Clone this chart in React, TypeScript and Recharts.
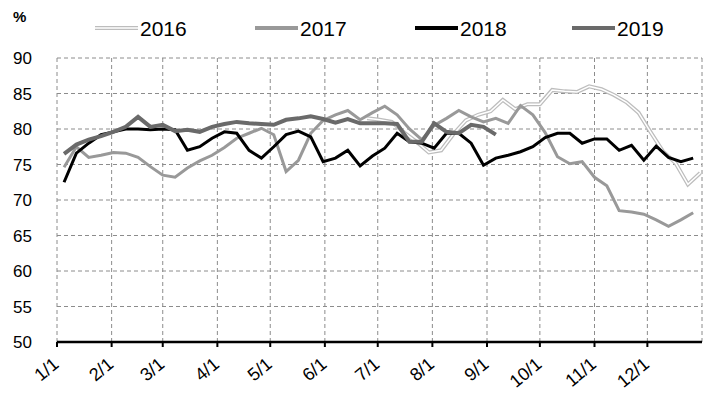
import { LineChart, Line, XAxis, YAxis, CartesianGrid } from "recharts";

// weekly readings, day-of-year positions
const WEEK_DAYS = Array.from({ length: 52 }, (_, i) => 4 + 7 * i);
const DAYS_2016 = Array.from({ length: 28 }, (_, i) => 176 + 7 * i);

const MONTH_TICKS = [0, 31, 60, 91, 121, 152, 182, 213, 244, 274, 305, 335];
const MONTH_LABELS = ["1/1", "2/1", "3/1", "4/1", "5/1", "6/1", "7/1", "8/1", "9/1", "10/1", "11/1", "12/1"];
const Y_TICKS = [50, 55, 60, 65, 70, 75, 80, 85, 90];

const S2016 = [
  81.5, 81.3, 81.0, 79.5, 78.2, 76.7, 77.0, 79.3, 81.2, 82.0, 82.5, 84.1, 82.8, 83.5,
  83.5, 85.5, 85.3, 85.2, 86.0, 85.6, 84.8, 83.8, 82.3, 79.5, 76.8, 75.2, 72.2, 73.8,
];
const S2017 = [
  74.6, 77.5, 76.0, 76.3, 76.7, 76.6, 76.0, 74.7, 73.5, 73.2, 74.5, 75.5, 76.3, 77.4,
  78.7, 79.4, 80.1, 79.2, 74.0, 75.6, 79.4, 81.2, 82.0, 82.6, 81.3, 82.3, 83.2, 82.0,
  80.0, 78.5, 80.5, 81.5, 82.6, 81.7, 81.0, 81.5, 80.8, 83.3, 82.0, 79.5, 76.1, 75.1,
  75.4, 73.2, 72.0, 68.5, 68.3, 68.0, 67.2, 66.3, 67.2, 68.2,
];
const S2018 = [
  72.5, 76.6, 78.0, 79.2, 79.6, 80.0, 80.0, 79.9, 80.0, 79.9, 77.0, 77.5, 78.7, 79.6,
  79.4, 77.0, 75.9, 77.5, 79.2, 79.7, 78.9, 75.4, 75.9, 77.0, 74.8, 76.2, 77.3, 79.4,
  78.2, 78.0, 77.3, 79.4, 79.4, 78.0, 74.9, 75.9, 76.3, 76.8, 77.5, 78.8, 79.4, 79.4,
  78.0, 78.6, 78.6, 77.0, 77.7, 75.6, 77.6, 76.0, 75.4, 75.9,
];
const S2019 = [
  76.5, 77.8, 78.5, 79.0, 79.6, 80.3, 81.7, 80.3, 80.6, 79.7, 79.9, 79.6, 80.3, 80.7,
  81.0, 80.8, 80.7, 80.6, 81.3, 81.5, 81.8, 81.4, 80.9, 81.4, 80.8, 80.8, 80.8, 80.7,
  78.2, 78.2, 80.8, 79.6, 79.4, 80.6, 80.3, 79.2,
];

const mainData = WEEK_DAYS.map((day, i) => ({
  day,
  y2017: S2017[i],
  y2018: S2018[i],
  y2019: i < S2019.length ? S2019[i] : null,
}));
const data2016 = DAYS_2016.map((day, i) => ({ day, y2016: S2016[i] }));

const FONT = "'Liberation Sans', Arial, sans-serif";

const MonthTick = (props: any) => {
  const { x, y, payload } = props;
  const label = MONTH_LABELS[MONTH_TICKS.indexOf(payload.value)];
  const tx = x + 3;
  const ty = y + 17;
  return (
    <text
      x={tx}
      y={ty}
      transform={`rotate(-40, ${tx}, ${ty})`}
      textAnchor="end"
      fontSize={18}
      fontFamily={FONT}
      fill="#000"
    >
      {label}
    </text>
  );
};

const legendItems = [
  { name: "2016", x: 95, outer: "#bdbdbd", inner: "#fff" },
  { name: "2017", x: 255, outer: "#999999", inner: null },
  { name: "2018", x: 415, outer: "#000000", inner: null },
  { name: "2019", x: 572, outer: "#6a6a6a", inner: null },
];

const LegendOverlay = () => (
  <svg width={709} height={50} style={{ position: "absolute", left: 0, top: 0 }}>
    {legendItems.map((it) => (
      <g key={it.name}>
        <line x1={it.x} x2={it.x + 43} y1={28} y2={28} stroke={it.outer} strokeWidth={4} />
        {it.inner && <line x1={it.x} x2={it.x + 43} y1={28} y2={28} stroke={it.inner} strokeWidth={1.5} />}
        <text x={it.x + 45} y={36} fontSize={21} fontFamily={FONT} fill="#000">
          {it.name}
        </text>
      </g>
    ))}
  </svg>
);

const App = () => {
  return (
    <div style={{ position: "absolute", left: 0, top: 0, width: 709, height: 393, background: "#fff" }}>
      <LineChart width={709} height={393} margin={{ top: 58, right: 7, bottom: 0, left: 0 }}>
        <CartesianGrid stroke="#8c8c8c" strokeDasharray="4 3" />
        <XAxis
          dataKey="day"
          type="number"
          domain={[0, 366]}
          ticks={MONTH_TICKS}
          allowDataOverflow
          axisLine={{ stroke: "#000", strokeWidth: 2.5 }}
          tickLine={{ stroke: "#000", strokeWidth: 2 }}
          tickSize={5}
          tick={<MonthTick />}
          interval={0}
          height={51}
        />
        <YAxis
          domain={[50, 90]}
          ticks={Y_TICKS}
          axisLine={false}
          tickLine={false}
          tickSize={0}
          tickMargin={25}
          width={57}
          tick={{ fontSize: 17, fill: "#000", fontFamily: FONT }}
        />
        <Line data={data2016} dataKey="y2016" stroke="#bdbdbd" strokeWidth={4} dot={false} isAnimationActive={false} />
        <Line data={data2016} dataKey="y2016" stroke="#ffffff" strokeWidth={1.5} dot={false} isAnimationActive={false} legendType="none" />
        <Line data={mainData} dataKey="y2017" stroke="#999999" strokeWidth={3} dot={false} isAnimationActive={false} />
        <Line data={mainData} dataKey="y2018" stroke="#000000" strokeWidth={3} dot={false} isAnimationActive={false} />
        <Line data={mainData} dataKey="y2019" stroke="#6a6a6a" strokeWidth={4} dot={false} isAnimationActive={false} />
      </LineChart>
      <LegendOverlay />
      <div style={{ position: "absolute", left: 13, top: 8, fontFamily: FONT, fontWeight: "bold", fontSize: 15 }}>%</div>
    </div>
  );
};

export default App;
